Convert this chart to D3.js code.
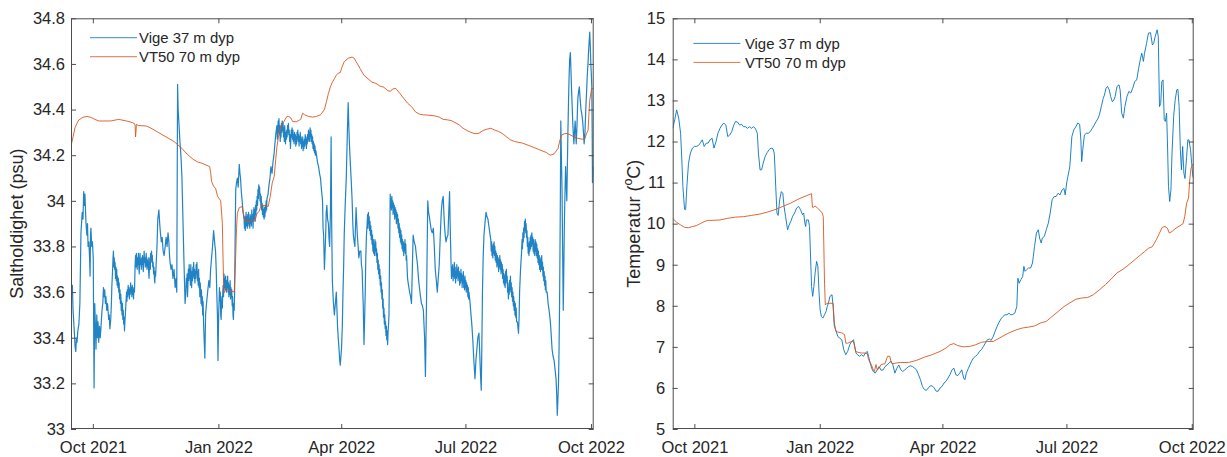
<!DOCTYPE html>
<html>
<head>
<meta charset="utf-8">
<script src="https://cdn.jsdelivr.net/npm/d3@7"></script>
<style>
  html, body { margin: 0; padding: 0; background: #fff; }
  svg text { font-family: "Liberation Sans", Arial, Helvetica, sans-serif; fill: #262626; }
</style>
</head>
<body>
<svg id="fig" width="1227" height="457"></svg>
<script>
// Time stamps are stored as days after 1 Oct 2021 (UTC).
const T0 = Date.UTC(2021, 9, 1);

const seriesNames = ["Vige 37 m dyp", "VT50 70 m dyp"];
const saltTicks = [33, 33.2, 33.4, 33.6, 33.8, 34, 34.2, 34.4, 34.6, 34.8];
const tempTicks = [5, 6, 7, 8, 9, 10, 11, 12, 13, 14, 15];
const saltLabel = "Saltholdighet (psu)";
const tempLabel = ["Temperatur (", "o", "C)"];

// Salinity, Vige 37 m
const vigeSalt = [
  [-16.0,33.67],[-15.5,33.60],[-15.0,33.63],[-14.5,33.52],[-14.0,33.47],[-13.5,33.42],[-13.0,33.36],[-12.5,33.34],[-12.0,33.40],[-11.6,33.38],
  [-11.0,33.43],[-10.2,33.46],[-9.5,33.55],[-8.7,33.86],[-7.8,33.95],[-7.2,33.92],[-6.7,34.04],[-6.2,33.98],[-5.8,34.03],[-5.0,33.90],
  [-4.4,33.85],[-3.9,33.90],[-3.5,33.80],[-2.9,33.82],[-2.4,33.75],[-2.0,33.67],[-1.7,33.85],[-1.4,33.88],[-0.8,33.80],[-0.3,33.82],
  [0.3,33.75],[0.9,33.18],[1.4,33.55],[1.9,33.45],[2.3,33.35],[2.9,33.50],[3.4,33.40],[3.8,33.47],[4.3,33.38],[4.9,33.45],
  [5.4,33.40],[5.8,33.43],[6.3,33.48],[6.7,33.52],[7.3,33.55],[7.8,33.62],[8.3,33.58],[8.7,33.61],[9.2,33.55],[9.6,33.58],
  [10.2,33.52],[10.8,33.55],[11.6,33.48],[12.0,33.50],[12.5,33.44],[13.1,33.48],[13.6,33.55],[13.9,33.62],
  [14.5,33.70],[14.8,33.75],[15.1,33.78],[15.4,33.71],[15.7,33.75],[16.0,33.70],[16.3,33.73],[16.6,33.66],[16.9,33.71],[17.2,33.65],
  [17.5,33.70],[17.8,33.63],[18.1,33.67],[18.4,33.62],[18.7,33.66],[19.0,33.60],[19.3,33.64],[19.6,33.57],[19.9,33.61],[20.2,33.55],
  [20.5,33.59],[20.8,33.52],[21.1,33.56],[21.4,33.50],[21.7,33.55],[22.0,33.48],[22.3,33.52],[22.6,33.46],[22.9,33.49],[23.2,33.43],
  [23.5,33.47],[23.8,33.50],
  [24.7,33.60],[25.0,33.56],[25.3,33.61],[25.6,33.58],[25.9,33.63],[26.2,33.59],[26.5,33.62],[26.8,33.57],[27.1,33.61],[27.4,33.59],
  [27.7,33.64],[28.0,33.60],[28.3,33.62],[28.6,33.58],[28.9,33.63],[29.2,33.59],[29.5,33.62],[29.8,33.57],[30.1,33.61],[30.5,33.60],
  [31.0,33.72],[31.3,33.76],[31.6,33.71],[31.9,33.77],[32.2,33.73],[32.5,33.70],[32.8,33.75],[33.1,33.72],[33.4,33.77],[33.7,33.71],
  [34.0,33.68],[34.3,33.74],[34.6,33.77],[34.9,33.72],[35.2,33.74],[35.5,33.70],[35.8,33.75],[36.1,33.72],[36.4,33.76],[36.7,33.71],
  [37.0,33.69],[37.3,33.74],[37.6,33.78],[37.9,33.73],[38.2,33.75],[38.5,33.71],[38.8,33.74],[39.1,33.77],[39.4,33.72],[39.7,33.70],
  [40.0,33.74],[40.3,33.71],[40.6,33.75],[40.9,33.69],[41.2,33.66],[41.5,33.72],[41.8,33.75],[42.1,33.70],[42.4,33.77],[42.7,33.73],
  [43.0,33.78],[43.3,33.74],[43.6,33.76],[43.9,33.71],[44.2,33.73],[44.5,33.68],[44.8,33.71],[45.1,33.66],[45.4,33.64],[45.7,33.69],
  [46.0,33.67],[46.3,33.71],
  [47.0,33.80],[47.6,33.92],[48.4,33.96],[49.0,33.90],[49.5,33.86],[50.2,33.82],[50.8,33.84],[51.5,33.78],[52.2,33.76],[53.0,33.80],
  [53.7,33.84],[54.4,33.80],[55.1,33.86],[55.7,33.82],[56.2,33.76],[56.6,33.73],[57.3,33.70],[58.0,33.72],[58.7,33.66],[59.5,33.70],
  [60.3,33.62],[61.0,33.66],[61.5,33.60],[62.1,34.51],[62.5,34.40],[63.0,34.35],[63.8,34.26],[64.3,34.22],[64.7,34.18],[65.3,34.10],
  [65.9,33.95],[66.7,33.75],[67.6,33.55],
  [68.2,33.60],[68.5,33.66],[68.8,33.62],[69.1,33.68],[69.4,33.58],[69.7,33.64],[70.0,33.70],[70.3,33.65],[70.6,33.72],[70.9,33.66],
  [71.2,33.70],[71.5,33.63],[71.8,33.72],[72.1,33.67],[72.4,33.62],[72.7,33.69],[73.0,33.65],[73.3,33.71],[73.6,33.67],[73.9,33.73],
  [74.2,33.66],[74.5,33.70],[74.8,33.64],[75.1,33.69],[75.4,33.66],[75.7,33.72],[76.0,33.68],[76.3,33.73],[76.6,33.65],[76.9,33.69],
  [77.2,33.63],[77.5,33.70],[77.8,33.62],[78.1,33.66],[78.4,33.58],[78.7,33.64],[79.0,33.60],[79.3,33.55],[79.6,33.61],[79.9,33.54],
  [80.2,33.58],[80.5,33.50],[80.8,33.56],[81.2,33.45],
  [82.1,33.31],[82.6,33.50],[83.3,33.55],[84.1,33.60],[85.0,33.65],[85.7,33.62],[86.3,33.70],[87.0,33.75],[87.7,33.80],[88.5,33.87],
  [89.2,33.82],[89.9,33.78],[90.4,33.70],[90.8,33.60],[91.3,33.50],[91.7,33.30],[92.2,33.50],
  [92.8,33.62],[93.1,33.56],[93.4,33.60],[93.7,33.50],[94.0,33.48],[94.3,33.55],[94.6,33.58],[94.9,33.53],[95.2,33.60],[95.5,33.63],
  [95.8,33.58],[96.1,33.68],[96.4,33.62],[96.7,33.66],[97.0,33.61],[97.3,33.67],[97.6,33.63],[97.9,33.60],[98.2,33.65],[98.5,33.62],
  [98.8,33.67],[99.1,33.60],[99.4,33.64],[99.7,33.58],[100.0,33.63],[100.3,33.59],[100.6,33.65],[100.9,33.57],[101.2,33.62],[101.5,33.58],
  [101.8,33.61],[102.1,33.54],[102.4,33.58],[102.7,33.50],[103.0,33.48],[103.3,33.55],[103.6,33.52],[103.9,33.60],
  [104.3,33.85],[104.7,34.05],[105.3,34.08],[105.9,34.10],[106.5,34.06],[107.3,34.16],[107.8,34.12],[108.2,34.10],[108.8,34.04],[109.4,34.00],
  [110.1,33.95],
  [110.8,33.92],[111.1,33.88],[111.4,33.93],[111.7,33.87],[112.0,33.91],[112.3,33.95],[112.6,33.89],[112.9,33.93],[113.2,33.88],[113.5,33.94],
  [113.8,33.90],[114.1,33.95],[114.4,33.89],[114.7,33.92],[115.0,33.88],[115.3,33.94],[115.6,33.90],[115.9,33.93],[116.2,33.89],[116.5,33.96],
  [116.8,33.91],[117.1,33.94],[117.4,33.88],[117.7,33.93],[118.0,33.97],[118.3,33.92],[118.6,33.96],[118.9,33.91],[119.2,33.98],[119.5,33.94],
  [119.8,34.00],[120.1,33.96],[120.4,34.02],[120.7,33.98],[121.0,34.05],[121.3,34.01],[121.6,34.07],[121.9,34.03],[122.2,34.06],[122.5,34.00],
  [122.8,34.03],[123.1,33.98],[123.4,34.02],[123.7,33.96],[124.0,33.99],[124.3,33.94],[124.6,33.98],[124.9,33.93],[125.2,33.96],[125.5,33.92],
  [125.8,33.97],[126.1,33.93],[126.4,33.98],[126.7,33.95],[127.0,34.00],[127.3,33.96],[127.6,34.01],
  [128.4,34.03],[129.1,34.07],[129.8,34.10],[130.5,34.15],[131.3,34.12],[132.0,34.17],[132.7,34.20],[133.4,34.25],[134.2,34.30],
  [134.9,34.33],[135.2,34.27],[135.5,34.31],[135.8,34.35],[136.1,34.30],[136.4,34.36],[136.7,34.29],[137.0,34.33],[137.3,34.26],[137.6,34.31],
  [137.9,34.28],[138.2,34.34],[138.5,34.30],[138.8,34.35],[139.1,34.31],[139.4,34.34],[139.7,34.28],[140.0,34.32],[140.3,34.26],[140.6,34.33],
  [140.9,34.29],[141.2,34.25],[141.5,34.30],[141.8,34.27],[142.1,34.31],[142.4,34.28],[142.7,34.33],[143.0,34.30],[143.3,34.34],[143.6,34.29],
  [143.9,34.31],[144.2,34.26],[144.5,34.29],[144.8,34.23],[145.1,34.27],[145.4,34.31],[145.7,34.28],[146.0,34.32],[146.3,34.27],[146.6,34.31],
  [146.9,34.26],[147.2,34.29],[147.5,34.25],[147.8,34.30],[148.1,34.27],[148.4,34.29],[148.7,34.24],[149.0,34.28],[149.3,34.25],[149.6,34.30],
  [149.9,34.27],[150.2,34.31],[150.5,34.26],[150.8,34.29],[151.1,34.24],[151.4,34.28],[151.7,34.26],[152.0,34.30],[152.3,34.25],[152.6,34.28],
  [152.9,34.23],[153.2,34.27],[153.5,34.24],[153.8,34.28],[154.1,34.22],[154.4,34.26],[154.7,34.23],[155.0,34.27],[155.3,34.24],[155.6,34.29],
  [155.9,34.25],[156.2,34.28],[156.5,34.23],[156.8,34.27],[157.1,34.25],[157.4,34.29],[157.7,34.26],[158.0,34.31],[158.3,34.27],[158.6,34.30],
  [158.9,34.26],[159.2,34.32],[159.5,34.28],[159.8,34.31],[160.1,34.26],[160.4,34.29],[160.7,34.25],[161.0,34.28],[161.3,34.23],[161.6,34.26],
  [161.9,34.22],[162.2,34.25],[162.5,34.21],[162.8,34.24],[163.1,34.20],[163.4,34.22],
  [163.9,34.20],[164.6,34.17],[165.4,34.15],[166.1,34.12],[166.8,34.10],[167.5,34.05],[168.3,34.00],[168.7,33.88],[169.1,33.85],[169.7,33.70],
  [170.2,33.78],[170.6,33.85],[171.0,33.95],[171.5,33.98],[172.0,33.92],[172.6,33.90],[173.0,33.84],[173.5,33.80],[174.1,33.95],[174.6,34.28],
  [175.0,33.90],[175.5,33.65],[176.2,33.56],[177.0,33.50],[177.7,33.55],[178.4,33.60],[178.9,33.52],[179.3,33.45],[179.8,33.40],[180.4,33.35],
  [180.9,33.30],[181.3,33.28],[181.8,33.32],[182.2,33.35],[182.8,33.45],[183.3,33.60],[183.8,33.72],[184.2,33.85],[184.9,33.98],[185.7,34.10],
  [186.5,34.30],[187.1,34.43],[187.6,34.32],[188.0,34.25],[188.8,34.15],[189.4,34.08],[190.0,34.00],[190.5,33.90],[190.9,33.85],[191.5,33.82],
  [192.0,33.80],[192.9,33.97],[193.4,33.90],[193.8,33.85],[194.4,33.80],[194.9,33.75],[195.6,33.78],[196.4,33.78],[196.8,33.72],[197.3,33.70],
  [197.7,33.62],[198.1,33.55],[198.7,33.37],[199.2,33.50],[199.6,33.60],[200.0,33.75],[200.5,33.85],
  [201.0,33.90],[201.3,33.94],[201.6,33.88],[201.9,33.95],[202.2,33.90],[202.5,33.93],[202.8,33.87],[203.1,33.91],[203.4,33.85],[203.7,33.89],
  [204.0,33.83],[204.3,33.87],[204.6,33.81],[204.9,33.85],[205.2,33.78],[205.5,33.83],[205.8,33.77],[206.1,33.81],[206.4,33.76],[206.7,33.83],
  [207.0,33.78],[207.3,33.82],[207.6,33.76],[207.9,33.79],[208.2,33.73],[208.5,33.77],[208.8,33.70],[209.1,33.74],[209.4,33.68],[209.7,33.72],
  [210.0,33.66],[210.3,33.70],[210.6,33.63],[210.9,33.67],[211.2,33.60],[211.5,33.64],[211.8,33.57],[212.1,33.61],[212.4,33.53],[212.7,33.57],
  [213.0,33.49],[213.3,33.53],[213.6,33.46],[213.9,33.50],[214.2,33.44],[214.5,33.47],[214.8,33.41],[215.1,33.45],[215.4,33.39],[215.7,33.43],
  [216.0,33.37],[216.3,33.42],
  [216.6,33.45],[217.0,33.50],[217.4,33.75],
  [217.9,34.03],[218.2,33.97],[218.5,34.01],[218.8,33.96],[219.1,34.02],[219.4,33.97],[219.7,34.00],[220.0,33.94],[220.3,33.99],[220.6,33.95],
  [220.9,33.98],[221.2,33.92],[221.5,33.97],[221.8,33.93],[222.1,33.96],[222.4,33.90],[222.7,33.95],[223.0,33.91],[223.3,33.94],[223.6,33.88],
  [223.9,33.92],[224.2,33.86],[224.5,33.90],[224.8,33.84],[225.1,33.88],[225.4,33.82],[225.7,33.87],[226.0,33.81],[226.3,33.85],[226.6,33.79],
  [226.9,33.83],[227.2,33.78],[227.5,33.82],[227.8,33.76],[228.1,33.81],[228.4,33.78],[228.7,33.83],[229.0,33.77],[229.3,33.81],[229.6,33.74],
  [229.9,33.76],
  [230.6,33.66],[231.3,33.63],[232.1,33.60],[232.8,33.58],[233.5,33.55],[234.1,33.70],[234.7,33.85],[235.5,33.82],[236.4,33.80],
  [237.1,33.76],[237.9,33.72],[238.6,33.66],[239.3,33.62],[240.1,33.58],[240.8,33.55],[241.5,33.54],[242.2,33.52],[242.7,33.45],[243.1,33.40],
  [243.7,33.23],[244.1,33.40],[244.6,33.60],[245.0,33.80],[245.4,34.00],[246.0,33.95],[246.6,33.93],[247.3,33.90],[248.0,33.87],[248.7,33.86],
  [249.5,33.88],[250.2,33.80],[250.9,33.70],[251.7,33.65],[252.4,33.60],[253.1,33.66],[253.8,33.72],[254.6,33.85],[255.3,33.95],[256.0,34.00],
  [256.7,34.02],[257.2,33.95],[257.6,33.90],[258.2,33.85],[258.8,33.82],[259.5,33.84],[260.2,33.85],[260.8,33.95],[261.4,34.04],[261.8,33.90],
  [262.5,33.72],[262.8,33.66],[263.1,33.71],[263.4,33.67],[263.7,33.72],[264.0,33.65],[264.3,33.70],[264.6,33.67],[264.9,33.73],[265.2,33.66],
  [265.5,33.71],[265.8,33.64],[266.1,33.69],[266.4,33.66],[266.7,33.72],[267.0,33.67],[267.3,33.70],[267.6,33.65],[267.9,33.71],[268.2,33.66],
  [268.5,33.69],[268.8,33.63],[269.1,33.68],[269.4,33.64],[269.7,33.70],[270.0,33.65],[270.3,33.68],[270.6,33.62],[270.9,33.67],[271.2,33.64],
  [271.5,33.69],[271.8,33.62],[272.1,33.66],[272.4,33.61],[272.7,33.67],[273.0,33.62],[273.3,33.65],[273.6,33.60],[273.9,33.64],[274.2,33.61],
  [274.5,33.63],[274.8,33.58],[275.1,33.62],[275.4,33.57],[275.6,33.60],
  [276.3,33.56],[277.1,33.50],[277.8,33.45],[278.5,33.38],[279.2,33.30],[280.0,33.22],[280.7,33.30],[281.4,33.35],[282.1,33.40],[282.9,33.42],
  [283.4,33.35],[283.8,33.28],[284.2,33.22],[284.6,33.17],[285.0,33.35],[285.5,33.60],[286.0,33.75],[286.6,33.85],[287.3,33.90],[288.1,33.95],
  [288.8,33.93],[289.5,33.92],[290.4,33.88],[291.1,33.85],
  [291.6,33.83],[291.9,33.78],[292.2,33.82],[292.5,33.76],[292.8,33.80],[293.1,33.75],[293.4,33.81],[293.7,33.77],[294.0,33.82],[294.3,33.76],
  [294.6,33.80],[294.9,33.74],[295.2,33.78],[295.5,33.73],[295.8,33.77],[296.1,33.71],[296.4,33.76],[296.7,33.72],[297.0,33.75],[297.3,33.69],
  [297.6,33.74],[297.9,33.71],[298.2,33.76],[298.5,33.70],[298.8,33.74],[299.1,33.68],[299.4,33.73],[299.7,33.69],[300.0,33.72],[300.3,33.66],
  [300.6,33.70],[300.9,33.64],[301.2,33.68],[301.5,33.63],[301.8,33.67],[302.1,33.62],[302.4,33.69],[302.7,33.64],[303.0,33.70],[303.3,33.65],
  [303.6,33.67],[303.9,33.60],[304.2,33.64],[304.5,33.57],[304.8,33.62],[305.1,33.59],[305.4,33.65],[305.7,33.61],[306.0,33.67],[306.3,33.60],
  [306.6,33.64],[306.9,33.58],[307.2,33.62],[307.5,33.56],[307.8,33.60],[308.1,33.54],[308.4,33.58],[308.7,33.52],[309.0,33.56],[309.3,33.50],
  [309.6,33.55],[309.9,33.49],[310.2,33.53],[310.5,33.47],
  [311.1,33.47],[311.9,33.42],[312.4,33.50],[312.7,33.60],[313.4,33.70],
  [314.2,33.78],[314.5,33.83],[314.8,33.79],[315.1,33.86],[315.4,33.82],[315.7,33.88],[316.0,33.84],[316.3,33.91],[316.6,33.87],[316.9,33.92],
  [317.2,33.86],[317.5,33.90],[317.8,33.84],[318.1,33.87],[318.4,33.80],[318.7,33.84],[319.0,33.77],[319.3,33.81],[319.6,33.76],[319.9,33.82],
  [320.2,33.78],[320.5,33.84],[320.8,33.79],[321.1,33.85],[321.4,33.80],[321.7,33.86],[322.0,33.81],[322.3,33.84],[322.6,33.78],[322.9,33.83],
  [323.2,33.77],[323.5,33.81],[323.8,33.76],[324.1,33.83],[324.4,33.78],[324.7,33.82],[325.0,33.76],[325.3,33.81],[325.6,33.75],[325.9,33.79],
  [326.2,33.73],[326.5,33.78],[326.8,33.72],[327.1,33.76],[327.4,33.70],[327.7,33.74],[328.0,33.69],[328.3,33.75],[328.6,33.70],[328.9,33.76],
  [329.2,33.70],[329.5,33.73],[329.8,33.67],[330.1,33.71],[330.4,33.65],[330.7,33.69],[331.0,33.63],[331.3,33.67],[331.6,33.61],[331.9,33.65],
  [332.2,33.60],
  [332.9,33.60],[333.6,33.55],[334.3,33.52],[335.1,33.48],[335.8,33.42],[336.5,33.35],[337.2,33.32],[338.0,33.30],
  [338.7,33.26],[339.4,33.22],[339.9,33.15],[340.3,33.06],[340.7,33.12],[341.2,33.20],[341.6,33.35],[342.0,33.55],[342.5,33.95],[342.9,34.35],
  [343.3,34.20],[343.8,34.05],[344.2,33.80],[344.7,33.52],[345.1,33.70],[345.5,33.90],[346.0,34.05],[346.4,34.15],[346.8,34.08],[347.3,34.00],
  [347.7,34.15],[348.1,34.30],[348.6,34.45],[349.0,34.55],[349.4,34.62],[349.9,34.65],[350.3,34.58],[350.7,34.50],[351.2,34.42],[351.6,34.35],
  [352.0,34.30],[352.5,34.25],[352.9,34.30],[353.4,34.35],[353.8,34.30],[354.2,34.25],[354.7,34.32],[355.1,34.40],[355.4,34.45],[356.0,34.48],
  [356.5,34.50],[357.0,34.45],[357.7,34.40],[358.3,34.38],[358.9,34.35],[359.5,34.30],[360.0,34.25],[360.6,34.30],[361.2,34.40],[361.8,34.48],
  [362.3,34.55],[362.8,34.60],[363.2,34.65],[363.7,34.70],[364.1,34.74],[364.5,34.68],[364.9,34.60],[365.3,34.55],[365.6,34.50],[365.9,34.30],
  [366.1,34.08],[366.6,34.15]
];

// Salinity, VT50 70 m
const vt50Salt = [
  [-16.0,34.24],[-14.5,34.28],[-13.1,34.32],[-11.6,34.34],[-10.2,34.355],[-7.3,34.366],[-4.4,34.37],[-1.5,34.366],[1.5,34.357],[4.4,34.35],
  [7.3,34.35],[13.1,34.35],[18.9,34.357],[24.7,34.35],[29.0,34.343],[30.5,34.338],[31.0,34.33],[31.3,34.28],[31.6,34.30],[31.9,34.335],
  [33.4,34.33],[39.2,34.328],[42.1,34.32],[47.9,34.30],[53.7,34.28],[59.5,34.26],[62.4,34.245],[65.3,34.23],[68.2,34.21],[71.1,34.194],
  [74.0,34.18],[76.9,34.17],[79.8,34.165],[85.6,34.15],[86.4,34.12],[87.0,34.085],[88.5,34.063],[89.9,34.056],[91.4,34.02],[93.7,34.0],
  [94.9,33.90],[95.4,33.75],[96.0,33.596],[97.2,33.61],[98.6,33.612],[101.5,33.605],[103.6,33.60],[104.4,33.71],[105.3,33.88],[105.9,33.946],
  [107.3,33.97],[109.4,33.975],[110.8,33.93],[111.7,33.91],[114.6,33.91],[117.5,33.913],[118.9,33.915],[120.4,33.946],[121.8,33.953],[123.3,33.98],
  [126.2,33.98],[128.5,33.975],[130.0,34.02],[131.4,34.077],[132.9,34.107],[134.0,34.18],[134.9,34.238],[136.4,34.296],[137.8,34.33],[139.3,34.34],
  [140.7,34.355],[142.2,34.37],[143.6,34.37],[145.1,34.363],[146.5,34.347],[149.4,34.347],[152.3,34.357],[153.7,34.384],[155.2,34.377],[158.1,34.37],
  [161.0,34.367],[163.9,34.37],[166.8,34.377],[169.7,34.40],[171.2,34.435],[172.6,34.47],[174.1,34.50],[175.5,34.52],[177.0,34.535],[178.4,34.55],
  [179.9,34.56],[181.3,34.562],[182.8,34.59],[184.2,34.61],[187.1,34.625],[190.0,34.63],[191.5,34.625],[192.9,34.61],[194.4,34.595],[195.8,34.58],
  [198.7,34.55],[201.6,34.535],[204.5,34.52],[207.4,34.515],[210.3,34.503],[213.2,34.498],[216.1,34.483],[218.1,34.48],[219.6,34.49],[221.9,34.493],
  [224.8,34.472],[227.7,34.45],[230.6,34.428],[233.5,34.413],[236.4,34.39],[239.3,34.38],[242.2,34.377],[245.1,34.376],[250.9,34.372],[253.8,34.367],
  [256.7,34.357],[259.6,34.355],[262.5,34.352],[265.4,34.343],[268.4,34.333],[271.3,34.318],[274.2,34.308],[277.1,34.30],[280.0,34.294],[282.9,34.296],
  [285.8,34.308],[288.7,34.314],[291.6,34.318],[294.5,34.31],[297.4,34.304],[300.3,34.294],[303.2,34.28],[306.1,34.267],[309.0,34.26],[314.8,34.253],
  [320.6,34.24],[326.4,34.226],[332.2,34.212],[335.1,34.20],[338.0,34.206],[340.9,34.23],[342.3,34.267],[343.8,34.29],[346.7,34.296],[349.6,34.29],
  [352.5,34.28],[355.4,34.274],[358.3,34.27],[360.6,34.272],[361.8,34.296],[362.9,34.31],[363.5,34.38],[364.1,34.44],[365.5,34.493],[367.0,34.49]
];

// Temperature, Vige 37 m
const vigeTemp = [
  [-15.9,12.32],[-14.4,12.53],[-13.0,12.77],[-11.5,12.57],[-10.1,12.2],[-9.2,11.55],[-8.4,10.9],[-7.2,10.35],[-6.4,10.34],[-5.5,10.9],
  [-4.3,11.47],[-2.9,11.72],[-1.4,11.84],[0,11.88],[1.4,11.88],[2.9,11.9],[4.3,11.96],[5.8,12.04],[7.2,11.88],[8.7,11.96],
  [10.1,11.96],[11.5,12.04],[13.0,12.08],[14.4,11.84],[15.9,12.0],[17.3,12.2],[18.8,12.32],[20.2,12.4],[21.6,12.45],[23.1,12.4],
  [24.5,12.12],[26.0,12.16],[27.4,12.24],[28.9,12.4],[30.3,12.49],[31.7,12.47],[33.2,12.4],[34.6,12.42],[36.1,12.36],[37.5,12.36],
  [39.0,12.32],[40.4,12.36],[41.8,12.32],[43.3,12.36],[44.7,12.32],[46.2,12.2],[47.0,11.72],[48.2,11.31],[49.3,11.31],[50.5,11.47],
  [51.9,11.63],[53.4,11.73],[54.8,11.8],[56.3,11.84],[57.7,11.82],[58.6,11.72],[59.1,11.39],[59.7,10.9],[60.6,10.26],[61.5,10.2],
  [62.6,10.58],[63.8,10.78],[64.9,10.74],[65.8,10.42],[66.9,10.18],[68.4,9.85],[69.2,9.94],[70.7,10.05],[72.1,10.18],[73.6,10.26],
  [75.0,10.38],[76.5,10.42],[77.9,10.34],[79.3,10.22],[80.2,10.26],[81.1,10.01],[81.7,9.93],[82.2,10.09],[83.7,10.09],[84.5,9.93],
  [85.1,9.36],[86.0,8.47],[86.8,8.23],[87.7,8.47],[88.6,8.8],[89.7,9.08],[90.6,8.96],[91.5,8.31],[92.3,7.9],[93.2,7.74],
  [94.3,7.7],[95.5,7.78],[96.6,7.86],[97.5,7.98],[98.4,8.07],[99.5,8.23],[101.0,8.27],[101.8,7.98],[102.7,7.5],[103.6,7.42],
  [104.4,7.34],[105.3,7.25],[106.8,7.21],[108.2,7.17],[109.6,6.93],[111.1,6.81],[112.5,6.89],[114.0,7.05],[115.4,7.13],[116.8,7.17],
  [117.7,7.01],[118.6,6.85],[119.7,6.81],[121.2,6.77],[122.6,6.81],[124.1,6.77],[125.5,6.85],[126.9,6.89],[127.8,6.77],[129.0,6.61],
  [130.1,6.48],[131.3,6.4],[132.7,6.36],[134.2,6.44],[135.6,6.52],[137.0,6.43],[138.5,6.44],[139.9,6.52],[141.4,6.56],[142.8,6.61],
  [144.3,6.65],[145.7,6.56],[147.1,6.36],[148.6,6.48],[150.0,6.56],[151.5,6.44],[152.9,6.4],[154.4,6.44],[155.8,6.48],[157.2,6.52],
  [158.7,6.54],[160.1,6.52],[161.6,6.48],[163.0,6.44],[164.5,6.32],[165.9,6.2],[167.3,6.04],[168.8,5.96],[170.2,5.94],[171.7,6.0],
  [173.1,6.05],[174.5,6.05],[176.0,6.0],[177.4,5.92],[178.9,5.92],[180.3,6.0],[181.8,6.04],[183.2,6.12],[184.6,6.16],[186.1,6.24],
  [187.5,6.32],[189.0,6.44],[190.4,6.48],[191.9,6.32],[193.3,6.3],[194.7,6.36],[196.2,6.44],[197.6,6.24],[198.5,6.2],[199.6,6.36],
  [201.1,6.48],[202.2,6.56],[203.4,6.65],[204.8,6.73],[206.3,6.77],[207.7,6.81],[209.2,6.89],[210.6,6.93],[212.1,7.01],[213.5,7.09],
  [214.9,7.17],[216.4,7.19],[217.8,7.16],[219.3,7.25],[220.7,7.38],[222.2,7.5],[223.6,7.6],[225.0,7.68],[226.5,7.74],[227.9,7.78],
  [229.4,7.78],[230.8,7.82],[232.2,7.78],[233.7,7.79],[235.1,7.82],[236.6,7.98],[237.4,8.67],[238.3,8.55],[239.5,8.63],[240.9,8.71],
  [241.8,8.96],[242.6,8.84],[243.8,8.88],[245.2,8.92],[246.7,8.92],[248.1,9.04],[249.6,9.44],[251.0,9.77],[252.4,9.85],[253.3,9.65],
  [254.5,9.53],[255.3,9.65],[256.8,9.69],[258.2,9.85],[259.7,10.01],[261.1,10.26],[262.5,10.58],[264.0,10.66],[265.4,10.66],[266.9,10.74],
  [268.3,10.7],[269.8,10.82],[271.2,10.86],[272.1,10.7],[273.2,10.99],[274.1,11.15],[275.5,11.39],[277.0,12.12],[278.4,12.28],[279.9,12.36],
  [281.3,12.45],[282.7,12.42],[283.6,12.04],[284.2,11.51],[285.0,11.8],[286.2,12.16],[287.6,12.2],[289.1,12.2],[290.5,12.24],[292.0,12.32],
  [293.4,12.4],[294.9,12.49],[296.3,12.57],[297.2,12.65],[298.6,12.85],[300.0,13.05],[300.9,13.13],[302.1,13.3],[303.2,13.34],[304.4,13.26],
  [305.5,13.09],[306.7,12.97],[307.8,13.01],[308.7,13.09],[310.1,13.34],[311.6,13.38],[312.4,13.26],[313.6,12.69],[314.8,12.57],[315.9,12.85],
  [317.4,13.09],[318.8,13.22],[320.2,13.18],[321.7,13.3],[323.1,13.46],[324.6,13.5],[326.0,13.78],[327.4,14.03],[328.3,14.15],[329.5,13.95],
  [330.3,14.15],[331.8,14.39],[333.2,14.64],[334.7,14.65],[336.1,14.35],[337.0,14.39],[338.1,14.55],[339.6,14.72],[340.4,14.55],[341.3,12.85],
  [342.2,12.93],[343.0,13.46],[343.9,13.5],[344.8,12.53],[345.6,12.49],[346.5,12.69],[347.1,12.04],[347.9,10.9],[348.8,10.54],[349.7,10.82],
  [350.5,11.72],[351.7,12.61],[352.8,13.01],[354.0,13.26],[354.8,13.27],[355.7,12.85],[356.6,11.8],[357.4,11.31],[358.3,11.88],[359.2,11.23],
  [360.0,11.1],[361.2,11.63],[362.1,12.04],[362.9,12.04],[364.1,11.8],[364.9,11.47],[365.8,11.15],[366.4,11.1]
];

// Temperature, VT50 70 m
const vt50Temp = [
  [-15.9,10.13],[-13.0,10.03],[-10.1,9.97],[-7.2,9.91],[-4.3,9.9],[-1.4,9.93],[1.4,9.95],[4.3,10.0],[7.2,10.05],[10.1,10.08],
  [13.0,10.08],[18.8,10.09],[24.5,10.13],[30.3,10.16],[36.1,10.17],[41.8,10.2],[47.6,10.23],[53.4,10.28],[59.1,10.34],[64.9,10.42],
  [70.7,10.5],[76.5,10.6],[82.2,10.68],[85.1,10.72],[86.0,10.73],[86.6,10.4],[87.4,10.4],[88.6,10.43],[90.3,10.38],[92.3,10.32],
  [93.8,10.26],[94.6,10.17],[95.5,8.55],[96.1,8.02],[97.2,8.06],[99.5,8.06],[101.8,8.06],[102.7,7.58],[103.9,7.38],[105.3,7.36],
  [108.2,7.34],[110.2,7.3],[111.1,7.09],[112.5,7.09],[115.4,7.13],[116.8,7.13],[118.3,6.89],[119.7,6.87],[122.6,6.85],[125.5,6.85],
  [126.9,6.83],[127.8,6.69],[129.8,6.57],[131.3,6.44],[132.1,6.4],[133.3,6.57],[134.2,6.44],[135.6,6.48],[137.0,6.57],[139.9,6.59],
  [141.7,6.77],[143.4,6.77],[144.5,6.61],[145.7,6.59],[148.6,6.61],[151.5,6.62],[157.2,6.62],[163.0,6.67],[168.8,6.75],[174.5,6.81],
  [180.3,6.89],[184.6,6.97],[187.5,7.05],[190.4,7.08],[193.3,7.03],[197.6,7.0],[202.0,7.01],[206.3,7.05],[210.6,7.11],[214.9,7.13],
  [219.3,7.13],[223.6,7.21],[227.9,7.29],[232.2,7.36],[236.6,7.42],[240.9,7.46],[245.2,7.48],[249.6,7.51],[253.9,7.58],[258.2,7.62],
  [262.5,7.74],[266.9,7.86],[271.2,7.98],[275.5,8.07],[279.9,8.16],[284.2,8.19],[288.5,8.2],[292.8,8.27],[297.2,8.39],[301.5,8.51],
  [305.8,8.65],[310.1,8.8],[314.5,8.89],[318.8,9.0],[323.1,9.12],[327.4,9.24],[330.3,9.32],[333.2,9.4],[336.1,9.44],[339.0,9.61],
  [341.3,9.77],[343.3,9.91],[345.3,9.93],[347.1,9.89],[348.5,9.77],[350.5,9.81],[353.4,9.89],[356.3,9.95],[358.6,10.0],[359.8,10.17],
  [361.2,10.5],[362.6,10.62],[363.5,11.07],[364.4,11.35],[365.5,11.43],[366.4,11.47]
];

const colors = ["#0072BD", "#D95319"];
const dayToDate = d => new Date(T0 + d * 864e5);
const svg = d3.select("#fig");

function drawPanel(cfg) {
  const { left, right, top, bottom } = cfg.box;
  const allDays = cfg.series.flatMap(s => s.map(p => p[0]));
  const x = d3.scaleUtc()
    .domain(d3.extent(allDays).map(dayToDate))
    .range([left, right]);
  const y = d3.scaleLinear()
    .domain(d3.extent(cfg.yTicks))
    .range([bottom, top]);

  const g = svg.append("g");

  g.append("clipPath").attr("id", cfg.id + "-clip")
    .append("rect")
    .attr("x", left).attr("y", top)
    .attr("width", right - left).attr("height", bottom - top);

  const line = d3.line()
    .x(p => x(dayToDate(p[0])))
    .y(p => y(p[1]));

  const plot = g.append("g").attr("clip-path", `url(#${cfg.id}-clip)`);
  cfg.series.forEach((s, i) => {
    plot.append("path")
      .datum(s)
      .attr("d", line)
      .attr("fill", "none")
      .attr("stroke", colors[i])
      .attr("stroke-opacity", 0.88)
      .attr("stroke-width", cfg.widths[i])
      .attr("stroke-linejoin", "round");
  });

  const monthTicks = d3.utcMonth.every(3);
  const fmt = d3.utcFormat("%b %Y");
  const tick = 5;

  const styleAxis = sel => {
    sel.select(".domain").remove();
    sel.selectAll(".tick line").attr("stroke", "#4d4d4d").attr("stroke-width", 1);
    sel.selectAll(".tick text").attr("fill", "#262626").style("font-size", "16.5px");
  };

  g.append("g").attr("transform", `translate(0,${bottom})`)
    .call(d3.axisBottom(x).ticks(monthTicks).tickFormat(fmt)
      .tickSizeInner(-tick).tickSizeOuter(0).tickPadding(12.3))
    .call(styleAxis);
  g.append("g").attr("transform", `translate(0,${top})`)
    .call(d3.axisTop(x).ticks(monthTicks).tickFormat("")
      .tickSizeInner(-tick).tickSizeOuter(0))
    .call(styleAxis);
  g.append("g").attr("transform", `translate(${left},0)`)
    .call(d3.axisLeft(y).tickValues(cfg.yTicks).tickFormat(d => String(d))
      .tickSizeInner(-tick).tickSizeOuter(0).tickPadding(cfg.yPad))
    .call(styleAxis);
  g.append("g").attr("transform", `translate(${right},0)`)
    .call(d3.axisRight(y).tickValues(cfg.yTicks).tickFormat("")
      .tickSizeInner(-tick).tickSizeOuter(0))
    .call(styleAxis);

  g.append("rect")
    .attr("x", left + 0.5).attr("y", top + 0.5)
    .attr("width", right - left - 1).attr("height", bottom - top - 1)
    .attr("fill", "none").attr("stroke", "#4d4d4d").attr("stroke-width", 1);

  // y-axis title
  const title = g.append("text")
    .attr("transform", `translate(${cfg.labelX},${(top + bottom) / 2}) rotate(-90)`)
    .attr("text-anchor", "middle")
    .style("font-size", "18px");
  cfg.label(title);

  // legend
  const lg = g.append("g");
  seriesNames.forEach((name, i) => {
    const ly = cfg.legend.y + i * 19;
    lg.append("line")
      .attr("x1", cfg.legend.x).attr("x2", cfg.legend.x + 47)
      .attr("y1", ly).attr("y2", ly)
      .attr("stroke", colors[i]).attr("stroke-opacity", 0.8).attr("stroke-width", 1);
    lg.append("text")
      .attr("x", cfg.legend.x + cfg.legend.gap)
      .attr("y", ly + 5.2)
      .style("font-size", "14.9px")
      .text(name);
  });
}

drawPanel({
  id: "salt",
  box: { left: 71, right: 593.7, top: 18.3, bottom: 429 },
  yTicks: saltTicks,
  yPad: 6,
  series: [vigeSalt, vt50Salt],
  widths: [1.2, 1],
  labelX: 23,
  label: t => t.text(saltLabel),
  legend: { x: 90, y: 37.7, gap: 49 }
});

drawPanel({
  id: "temp",
  box: { left: 672.7, right: 1193.7, top: 18.3, bottom: 429 },
  yTicks: tempTicks,
  yPad: 7.5,
  series: [vigeTemp, vt50Temp],
  widths: [1, 1],
  labelX: 639.5,
  label: t => {
    t.append("tspan").text(tempLabel[0]);
    t.append("tspan").attr("dy", -8).style("font-size", "12.5px").text(tempLabel[1]);
    t.append("tspan").attr("dy", 8).text(tempLabel[2]);
  },
  legend: { x: 693.4, y: 43.4, gap: 51.5 }
});
</script>
</body>
</html>
